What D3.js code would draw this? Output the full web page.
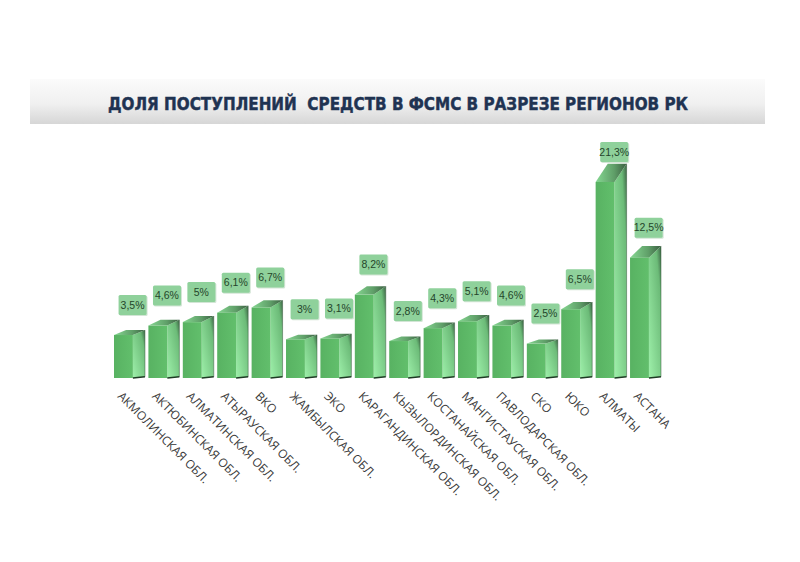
<!DOCTYPE html>
<html>
<head>
<meta charset="utf-8">
<script src="https://cdn.jsdelivr.net/npm/d3@7"></script>
<style>
html,body{margin:0;padding:0;background:#fff;}
svg{display:block;}
</style>
</head>
<body>
<svg id="chart" width="800" height="562"></svg>
<script>
const title = "ДОЛЯ ПОСТУПЛЕНИЙ  СРЕДСТВ В ФСМС В РАЗРЕЗЕ РЕГИОНОВ РК";
const categories = [
  "АКМОЛИНСКАЯ ОБЛ.", "АКТЮБИНСКАЯ ОБЛ.", "АЛМАТИНСКАЯ ОБЛ.", "АТЫРАУСКАЯ ОБЛ.",
  "ВКО", "ЖАМБЫЛСКАЯ ОБЛ.", "ЭКО", "КАРАГАНДИНСКАЯ ОБЛ.", "КЫЗЫЛОРДИНСКАЯ ОБЛ.",
  "КОСТАНАЙСКАЯ ОБЛ.", "МАНГИСТАУСКАЯ ОБЛ.", "ПАВЛОДАРСКАЯ ОБЛ.", "СКО", "ЮКО",
  "АЛМАТЫ", "АСТАНА"
];
const values = [3.5, 4.6, 5, 6.1, 6.7, 3, 3.1, 8.2, 2.8, 4.3, 5.1, 4.6, 2.5, 6.5, 21.3, 12.5];
const valueLabels = ["3,5%", "4,6%", "5%", "6,1%", "6,7%", "3%", "3,1%", "8,2%", "2,8%", "4,3%", "5,1%", "4,6%", "2,5%", "6,5%", "21,3%", "12,5%"];

const svg = d3.select("#chart");
const defs = svg.append("defs");

// Title band
const bandGrad = defs.append("linearGradient").attr("id", "bandGrad")
  .attr("x1", 0).attr("y1", 0).attr("x2", 0).attr("y2", 1);
bandGrad.append("stop").attr("offset", 0).attr("stop-color", "#fbfbfb");
bandGrad.append("stop").attr("offset", 0.55).attr("stop-color", "#f0f0f0");
bandGrad.append("stop").attr("offset", 1).attr("stop-color", "#d6d6d6");
svg.append("rect").attr("x", 30).attr("y", 79).attr("width", 735).attr("height", 45)
  .attr("fill", "url(#bandGrad)");
svg.append("text").attr("x", 398).attr("y", 110)
  .attr("text-anchor", "middle")
  .attr("font-family", "'DejaVu Sans Condensed', 'DejaVu Sans', sans-serif")
  .attr("font-weight", "bold").attr("font-size", 18.5)
  .attr("fill", "#1f3352").attr("stroke", "#1f3352").attr("stroke-width", 0.45)
  .attr("textLength", 580).attr("lengthAdjust", "spacingAndGlyphs")
  .style("white-space", "pre")
  .text(title);

// Gradients for bars
const sideGrad = defs.append("linearGradient").attr("id", "sideGrad")
  .attr("x1", 1).attr("y1", 0).attr("x2", 0).attr("y2", 1);
sideGrad.append("stop").attr("offset", 0).attr("stop-color", "#3c6444");
sideGrad.append("stop").attr("offset", 0.22).attr("stop-color", "#6cbb78");
sideGrad.append("stop").attr("offset", 1).attr("stop-color", "#9ef0aa");
const topGrad = defs.append("linearGradient").attr("id", "topGrad")
  .attr("x1", 0).attr("y1", 0).attr("x2", 1).attr("y2", 0);
topGrad.append("stop").attr("offset", 0).attr("stop-color", "#86d892");
topGrad.append("stop").attr("offset", 0.6).attr("stop-color", "#5f9e68");
topGrad.append("stop").attr("offset", 1).attr("stop-color", "#3b5f41");
const frontGrad = defs.append("linearGradient").attr("id", "frontGrad")
  .attr("x1", 0).attr("y1", 0).attr("x2", 1).attr("y2", 0);
frontGrad.append("stop").attr("offset", 0).attr("stop-color", "#58b262");
frontGrad.append("stop").attr("offset", 1).attr("stop-color", "#62bf6c");

const x = d3.scaleBand().domain(categories).range([114, 661]).paddingInner(0.1).paddingOuter(0);
const y = d3.scaleLinear().domain([-1.5, 21.3]).range([378, 182]);
const base = y.range()[0];
const bw = x.bandwidth();
const frontW = bw * 0.61;
const depthX = bw - frontW;
const rise = yy => 0.087 * (392 - yy);

const data = categories.map((c, i) => ({c, v: values[i], label: valueLabels[i]}));

const bars = svg.append("g").selectAll("g").data(data).join("g");

bars.each(function(d) {
  const g = d3.select(this);
  const x0 = x(d.c), xf = x0 + frontW, xr = x0 + bw;
  const yt = y(d.v), yb = base;
  const dt = rise(yt), db = rise(yb);
  // side face
  g.append("path")
    .attr("d", `M${xf},${yt}L${xr},${yt - dt}L${xr},${yb - db}L${xf},${yb}Z`)
    .attr("fill", "url(#sideGrad)");
  // top face
  g.append("path")
    .attr("d", `M${x0},${yt}L${xf},${yt}L${xr},${yt - dt}L${x0 + depthX},${yt - dt}Z`)
    .attr("fill", "url(#topGrad)");
  // front face
  g.append("rect").attr("x", x0).attr("y", yt).attr("width", frontW).attr("height", yb - yt)
    .attr("fill", "url(#frontGrad)");
  // dark bottom edge of side
  g.append("path")
    .attr("d", `M${xf},${yb}L${xr},${yb - db}`)
    .attr("stroke", "#1e3a24").attr("stroke-width", 1.6).attr("fill", "none");
  g.append("path")
    .attr("d", `M${xr},${yt - dt}L${xr},${yb - db}`)
    .attr("stroke", "#2f5035").attr("stroke-width", 0.8).attr("fill", "none").attr("opacity", 0.6);

  // value label box
  const cx = x0 + bw * 0.6;
  const bh = 20, bwid = 28;
  const by = yt - 20 - bh;
  g.append("rect").attr("x", cx - bwid / 2 + 1).attr("y", by + 1).attr("width", bwid).attr("height", bh)
    .attr("fill", "#6aa874").attr("opacity", 0.3).attr("rx", 1.5);
  g.append("rect").attr("x", cx - bwid / 2).attr("y", by).attr("width", bwid).attr("height", bh)
    .attr("fill", "#8fd19b").attr("rx", 1.5);
  g.append("text").attr("x", cx).attr("y", by + bh / 2 + 3.6)
    .attr("text-anchor", "middle")
    .attr("font-family", "'Liberation Sans', Arial, sans-serif")
    .attr("font-size", 10.5).attr("fill", "#24452a")
    .text(d.label);

  // category label
  g.append("text")
    .attr("transform", `translate(${x0 + 3},${397}) rotate(45)`)
    .attr("font-family", "'Open Sans', sans-serif")
    .attr("font-size", 12).attr("fill", "#3a3a3a")
    .text(d.c);
});
</script>
</body>
</html>
